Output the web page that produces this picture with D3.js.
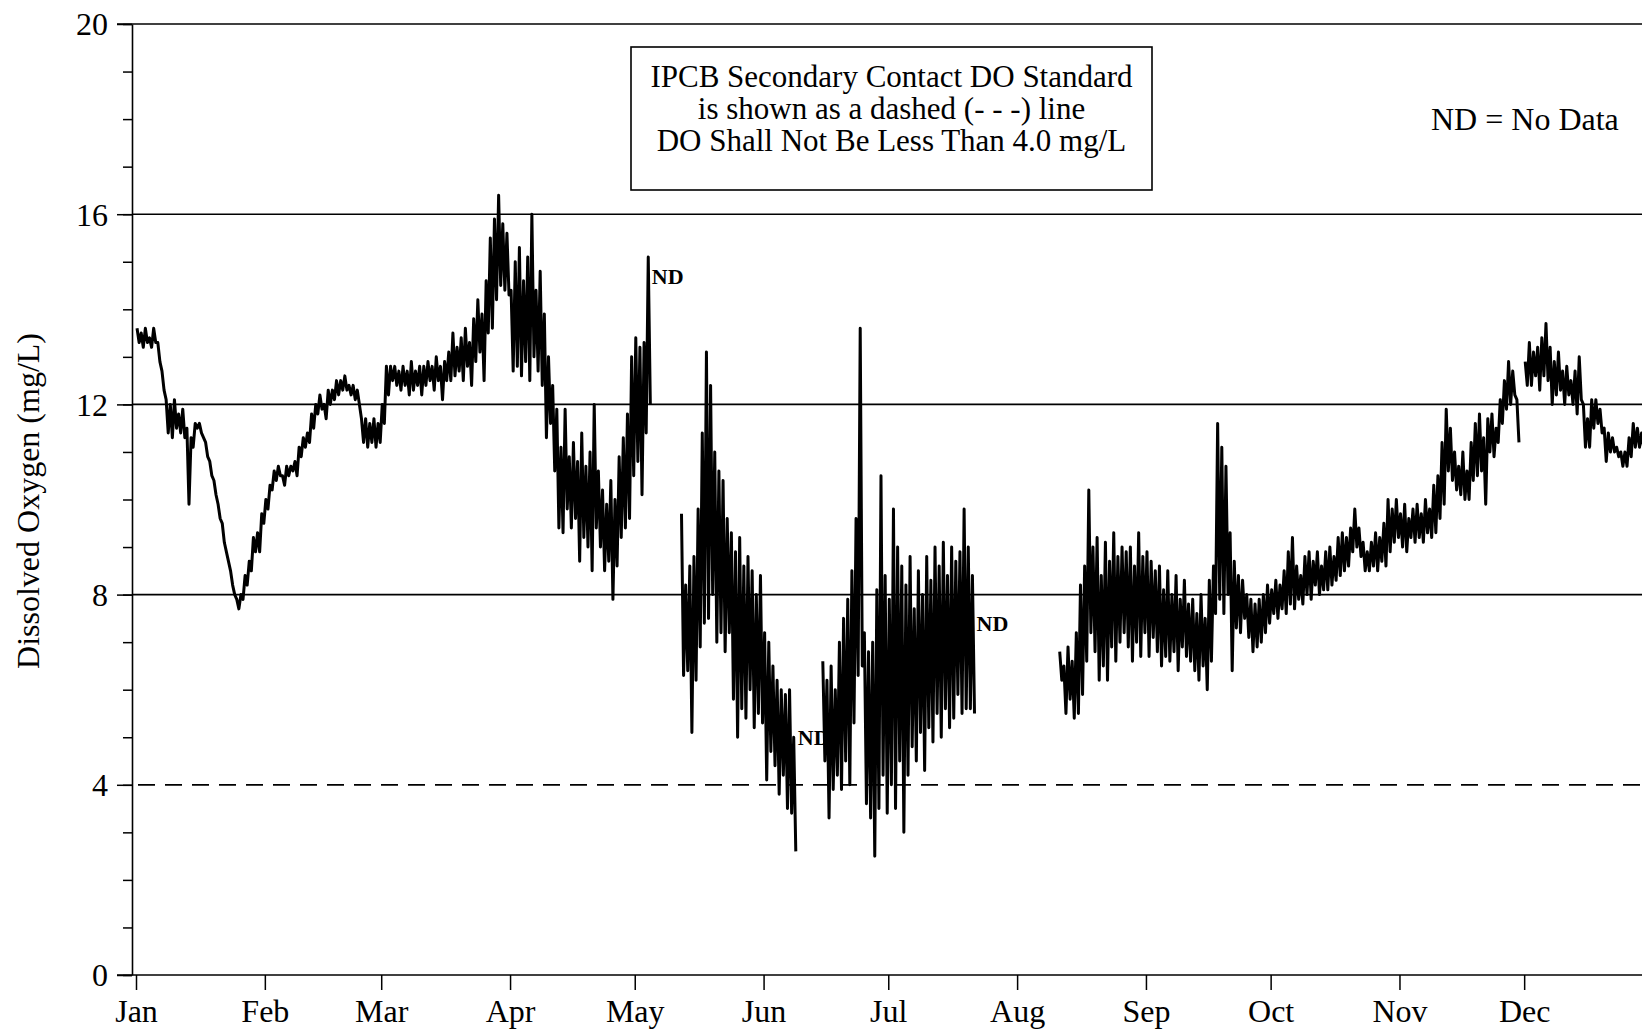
<!DOCTYPE html>
<html>
<head>
<meta charset="utf-8">
<script src="https://cdn.jsdelivr.net/npm/d3@7/dist/d3.min.js"></script>
<style>
  html, body { margin: 0; padding: 0; background: #fff; }
  svg { display: block; }
  text { font-family: "Liberation Serif", "Times New Roman", serif; fill: #000; }
</style>
</head>
<body>
<svg id="chart" width="1642" height="1031"></svg>
<script>
// ---------- data (daily high / low dissolved oxygen, mg/L; null = no data) ----------
const year = 2019;
const months = ["Jan","Feb","Mar","Apr","May","Jun","Jul","Aug","Sep","Oct","Nov","Dec"];
const yMajorTicks = [0, 4, 8, 12, 16, 20];
const gridValues = [8, 12, 16];
const standardDO = 4.0;

const doHigh = [
  13.6,13.5,13.6,13.4,13.6,13.3,12.7,12.1,12.0,12.1,
  11.8,11.9,11.5,11.3,11.6,11.6,11.3,10.9,10.5,10.1,
  9.6,9.1,8.7,8.2,7.9,8.0,8.4,8.7,9.2,9.3,
  9.7,10.0,10.3,10.6,10.7,10.5,10.7,10.7,10.8,11.1,
  11.3,11.4,11.8,12.0,12.2,12.0,12.3,12.3,12.5,12.5,
  12.6,12.4,12.4,12.3,11.7,11.7,11.6,11.7,11.6,12.0,
  12.8,12.8,12.8,12.7,12.8,12.7,12.9,12.7,12.8,12.8,
  12.9,12.8,13.0,12.8,12.9,13.1,13.5,13.2,13.4,13.6,
  13.3,13.8,14.2,13.9,14.6,15.5,15.9,16.4,15.8,15.6,
  14.4,15.0,15.3,14.6,15.1,16.0,14.4,14.8,13.9,13.0,
  12.4,11.9,11.1,11.9,10.9,11.2,10.8,11.4,10.7,11.0,
  12.0,10.6,10.2,9.9,10.4,10.0,10.9,11.3,11.8,13.0,
  13.4,13.2,13.3,15.1,null,null,null,null,null,null,
  null,9.7,8.2,8.6,8.8,9.8,11.4,13.1,12.4,11.0,
  10.6,10.4,9.6,9.3,8.9,9.2,8.6,8.8,8.5,8.0,
  8.4,7.2,7.0,6.5,6.2,6.0,5.9,6.0,5.0,null,
  null,null,null,null,null,6.6,6.2,6.5,6.0,7.0,
  7.5,7.9,8.5,9.6,13.6,7.2,6.8,7.0,8.1,10.5,
  8.4,7.9,9.8,9.0,8.6,8.2,8.8,7.7,8.5,8.0,
  8.8,8.3,9.0,8.6,9.1,8.4,9.0,8.7,8.9,9.8,
  9.0,8.4,null,null,null,null,null,null,null,null,
  null,null,null,null,null,null,null,null,null,null,
  null,null,6.8,6.5,6.9,6.6,7.2,8.2,8.6,10.2,
  9.0,9.2,8.4,9.1,8.7,9.3,8.8,9.0,8.9,9.0,
  8.6,9.3,8.8,8.9,8.7,8.5,8.6,8.1,8.5,8.0,
  8.4,7.9,8.3,7.8,7.9,7.6,8.0,7.5,8.3,8.6,
  11.6,11.1,10.7,9.3,8.7,8.4,8.3,8.0,7.9,7.8,
  7.9,8.0,8.2,8.1,8.3,8.2,8.5,8.9,9.2,8.6,
  8.4,8.8,8.9,8.7,8.9,8.6,8.9,9.0,8.8,9.2,
  9.3,9.2,9.4,9.8,9.4,9.1,8.9,9.1,9.3,9.2,
  9.5,10.0,9.8,10.0,9.7,9.9,9.6,9.8,9.9,9.7,
  10.0,9.8,10.3,10.5,11.2,11.9,11.5,11.0,10.7,11.0,
  10.6,11.2,11.6,11.8,11.3,11.7,11.8,11.5,12.1,12.5,
  12.9,12.7,12.1,null,12.9,13.3,13.1,13.2,13.4,13.7,
  13.2,12.9,13.1,12.7,12.8,12.5,12.7,13.0,12.0,11.7,
  12.1,12.1,11.9,11.5,11.4,11.3,11.1,11.0,11.0,11.3,
  11.6,11.5,11.4,11.6
];

const doLow = [
  13.3,13.2,13.3,13.2,13.3,12.9,12.3,11.4,11.3,11.5,
  11.4,11.3,9.9,11.1,11.5,11.4,11.2,10.8,10.4,9.9,
  9.5,8.9,8.5,8.0,7.7,7.9,8.2,8.5,8.9,8.9,
  9.5,9.8,10.2,10.4,10.5,10.3,10.5,10.6,10.5,10.9,
  11.1,11.2,11.5,11.8,11.9,11.7,12.0,12.1,12.2,12.3,
  12.3,12.2,12.1,12.0,11.2,11.1,11.2,11.1,11.2,11.6,
  12.2,12.5,12.4,12.3,12.4,12.2,12.3,12.4,12.2,12.4,
  12.5,12.3,12.5,12.1,12.5,12.5,12.6,12.7,12.5,12.8,
  12.4,12.9,13.1,12.5,13.5,13.6,14.2,14.5,14.4,14.3,
  12.7,12.8,12.6,12.9,12.5,13.0,12.7,12.4,11.3,11.6,
  10.6,9.4,9.3,9.8,9.4,9.6,8.7,9.2,9.0,8.5,
  9.4,9.0,8.5,8.7,7.9,8.6,9.2,9.4,9.6,10.5,
  10.8,10.1,11.4,12.0,null,null,null,null,null,null,
  null,6.3,6.4,5.1,6.2,6.9,7.4,7.5,8.0,7.0,
  7.2,6.8,7.2,5.8,5.0,5.6,5.4,6.0,5.2,5.5,
  5.3,4.1,4.7,4.4,3.8,4.2,3.5,3.4,2.6,null,
  null,null,null,null,null,4.5,3.3,3.9,4.2,3.9,
  4.5,4.0,5.3,6.3,6.5,3.6,3.3,2.5,3.5,4.2,
  3.4,4.0,3.5,4.5,3.0,4.2,4.8,4.5,5.1,4.3,
  5.2,4.9,5.5,5.0,5.6,5.2,5.4,5.9,5.5,5.6,
  5.6,5.5,null,null,null,null,null,null,null,null,
  null,null,null,null,null,null,null,null,null,null,
  null,null,6.2,5.5,5.8,5.4,5.5,5.9,6.6,7.2,
  6.8,6.2,6.5,6.2,6.9,6.6,7.0,7.2,6.9,6.6,
  7.0,6.7,7.2,6.7,7.1,6.8,6.5,6.7,6.6,6.8,
  6.4,6.9,6.7,6.6,6.4,6.2,6.5,6.0,6.6,7.6,
  7.9,7.6,8.0,6.4,7.3,7.2,7.5,7.1,6.8,6.9,
  7.0,7.2,7.4,7.6,7.5,7.7,7.6,7.8,7.7,7.9,
  7.8,8.0,7.9,8.2,8.0,8.1,8.1,8.2,8.3,8.4,
  8.5,8.6,8.9,9.0,8.8,8.5,8.5,8.6,8.5,8.7,
  8.6,8.9,9.1,9.2,9.0,8.9,9.2,9.1,9.2,9.1,
  9.3,9.2,9.3,9.6,9.9,10.6,10.4,10.2,10.1,10.0,
  10.0,10.4,10.5,10.6,9.9,11.0,10.9,11.2,11.6,11.9,
  12.0,12.2,11.2,null,12.4,12.4,12.6,12.3,12.6,12.5,
  12.0,12.2,12.3,12.0,12.2,12.0,11.8,12.1,11.1,11.1,
  11.5,11.6,11.4,10.8,11.0,11.0,10.9,10.7,10.7,10.9,
  11.1,11.1,11.1,11.2
];

// "ND" (no data) markers: [day of year, value level]
const ndDays = [123.9, 159.0, 202.0];
const ndLevels = [14.7, 5.0, 7.4];

const boxLines = [
  "IPCB Secondary Contact DO Standard",
  "is shown as a dashed (- - -) line",
  "DO Shall Not Be Less Than 4.0 mg/L"
];

// ---------- build ----------
const W = 1642, H = 1031;
const svg = d3.select("#chart");
const font = 32;

const dayToDate = d => new Date(year, 0, 1 + Math.floor(d), (d % 1) * 24);
const x = d3.scaleTime()
  .domain([new Date(year, 0, 1), new Date(year + 1, 0, 1)])
  .range([136, 1653]);
const y = d3.scaleLinear().domain([0, 20]).range([975, 24]);
const axisX = 132;

// points: daily high at +0.25 d, daily low at +0.75 d
const pts = [];
doHigh.forEach((h, i) => {
  const l = doLow[i];
  if (h == null || l == null) { pts.push(null); return; }
  pts.push({ t: dayToDate(i + 0.25), v: h });
  pts.push({ t: dayToDate(i + 0.75), v: l });
});
const series = pts.map(p => p || { t: null, v: null });

// grid lines
svg.append("g").selectAll("line").data(gridValues).join("line")
  .attr("x1", axisX).attr("x2", W)
  .attr("y1", d => y(d)).attr("y2", d => y(d))
  .attr("stroke", "#000").attr("stroke-width", 1.6);

// top frame line
svg.append("line").attr("x1", 117).attr("x2", W)
  .attr("y1", y(20)).attr("y2", y(20))
  .attr("stroke", "#000").attr("stroke-width", 1.6);

// standard dashed line
svg.append("line").attr("x1", 138).attr("x2", W)
  .attr("y1", y(standardDO)).attr("y2", y(standardDO))
  .attr("stroke", "#000").attr("stroke-width", 1.8)
  .attr("stroke-dasharray", "17,10");

// data line
svg.append("path")
  .datum(series)
  .attr("fill", "none")
  .attr("stroke", "#000")
  .attr("stroke-width", 3)
  .attr("stroke-linejoin", "round")
  .attr("d", d3.line()
    .defined(d => d.v != null)
    .x(d => x(d.t))
    .y(d => y(d.v)));

// y axis minor ticks
const gyMinor = svg.append("g").attr("transform", `translate(${axisX},0)`)
  .call(d3.axisLeft(y).tickValues(d3.range(0, 21, 1)).tickSize(9).tickSizeOuter(0).tickFormat(""));
gyMinor.select(".domain").remove();
// y axis major
const gy = svg.append("g").attr("transform", `translate(${axisX},0)`)
  .call(d3.axisLeft(y).tickValues(yMajorTicks).tickSize(15).tickSizeOuter(0).tickPadding(9));
svg.selectAll("g .tick line").attr("stroke", "#000").attr("stroke-width", 1.5);
gy.select(".domain").attr("stroke", "#000").attr("stroke-width", 1.6);
gy.selectAll("text").style("font-size", font + "px").attr("dy", "0.34em")
  .style("font-family", '"Liberation Serif","Times New Roman",serif');

// bottom frame line
svg.append("line").attr("x1", 117).attr("x2", W)
  .attr("y1", y(0)).attr("y2", y(0))
  .attr("stroke", "#000").attr("stroke-width", 1.6);

// x axis
const monthDates = months.map((m, i) => new Date(year, i, 1));
const gx = svg.append("g").attr("transform", `translate(0,${y(0)})`)
  .call(d3.axisBottom(x).tickValues(monthDates).tickFormat((d, i) => months[i])
    .tickSize(15).tickSizeOuter(0).tickPadding(9));
gx.select(".domain").remove();
gx.selectAll(".tick line").attr("stroke", "#000").attr("stroke-width", 1.5);
gx.selectAll("text").style("font-size", font + "px")
  .style("font-family", '"Liberation Serif","Times New Roman",serif');

// y axis title
svg.append("text")
  .attr("transform", "translate(39,501) rotate(-90)")
  .attr("text-anchor", "middle")
  .style("font-size", font + "px")
  .text("Dissolved Oxygen (mg/L)");

// annotation box
svg.append("rect").attr("x", 631).attr("y", 47).attr("width", 521).attr("height", 143)
  .attr("fill", "#fff").attr("stroke", "#000").attr("stroke-width", 1.6);
svg.append("g").selectAll("text").data(boxLines).join("text")
  .attr("x", 891.5).attr("y", (d, i) => 87 + i * 32)
  .attr("text-anchor", "middle")
  .style("font-size", "31px")
  .text(d => d);

// ND legend
svg.append("text").attr("x", 1431).attr("y", 130)
  .style("font-size", font + "px").text("ND = No Data");

// ND markers
svg.append("g").selectAll("text").data(ndDays).join("text")
  .attr("x", d => x(dayToDate(d)) + 1)
  .attr("y", (d, i) => y(ndLevels[i]) + 8)
  .style("font-size", "22px").style("font-weight", "bold")
  .text("ND");
</script>
</body>
</html>
